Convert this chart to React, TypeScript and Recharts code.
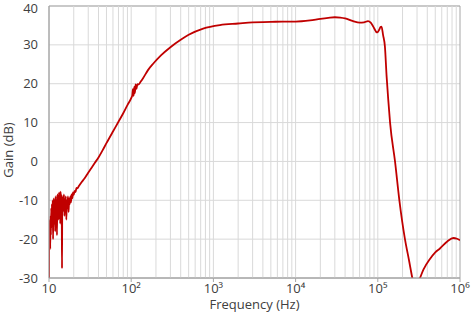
import React from 'react'
import {
  LineChart,
  Line,
  XAxis,
  YAxis,
  CartesianGrid,
  ReferenceLine,
  ReferenceArea,
} from 'recharts'

// noisy low-frequency part
const lowFreq = [
  10.0, 10.05, 10.15, 10.25, 10.35, 10.45, 10.55, 10.65, 10.75, 10.85, 10.95, 11.1, 11.2, 11.35, 11.5,
  11.6, 11.75, 11.9, 12.05, 12.2, 12.35, 12.5, 12.65, 12.8, 12.95, 13.1, 13.25, 13.4, 13.55, 13.7,
  13.85, 14.0, 14.15, 14.3, 14.4, 14.5, 14.65, 14.8, 15.0, 15.2, 15.4, 15.6, 15.8, 16.0, 16.25, 16.5,
  16.75, 17.0, 17.3, 17.6, 17.9, 18.2, 18.5, 18.8, 19.2, 19.6, 20.0, 20.5, 21.0, 21.6, 22.2,
]
const lowGain = [
  -31, -18, -21, -15, -22.5, -14, -19, -12, -17, -11, -15, -10, -20, -11, -9.5,
  -16, -10, -18, -9, -13, -10, -19, -8.5, -12, -9, -15, -8, -11, -10, -16,
  -7.8, -12, -8.5, -14, -27.5, -10, -13, -9, -12, -8.5, -14, -10, -12, -9, -15, -10,
  -12, -9, -13, -9.5, -11, -9, -10.5, -8.5, -9.5, -8, -8.6, -7.6, -7.9, -6.8, -6.9,
]

// rising slope up to the passband
const midFreq = [
  23, 25, 27, 30, 33, 36, 40, 45, 50, 60, 70, 80, 90, 100, 103, 105, 107, 109, 111, 113,
  116, 119, 123, 130, 140, 160, 186, 230, 300, 400, 500, 750, 1200, 2000, 3000, 5000, 7000,
]
const midGain = [
  -6.4, -5.3, -4.4, -2.9, -1.6, -0.4, 1.0, 2.9, 4.7, 7.7, 10.2, 12.4, 14.5, 16.3, 17.0, 18.6, 16.9, 19.2, 17.6, 19.8,
  18.7, 19.9, 19.8, 20.5, 21.5, 23.5, 25.2, 27.3, 29.4, 31.3, 32.6, 34.2, 35.1, 35.5, 35.8, 35.9, 36.0,
]

// passband, roll-off and notch
const highFreq = [
  10000, 15000, 20000, 25000, 30000, 35000, 40000, 50000, 60000, 68000,
  76000, 82000, 88000, 94000, 97000, 100000, 104000, 108000, 111000, 116000,
  122000, 128000, 134000, 141000, 162000, 183000, 214000, 240000, 263000, 284000,
  300000, 326000, 360000, 431000, 500000, 570000, 700000, 830000, 920000, 1000000,
]
const highGain = [
  36.0, 36.3, 36.7, 36.95, 37.1, 37.0, 36.8, 36.1, 35.7, 35.8,
  36.1, 35.7, 34.7, 33.6, 33.2, 33.3, 33.9, 34.6, 34.7, 32.5,
  29.6, 21.9, 15.9, 10, 0, -10, -20, -25.5, -30, -33,
  -31.8, -30, -27.8, -25.1, -23.4, -22.4, -20.6, -19.7, -19.9, -20.3,
]

const xTicks = [10, 100, 1000, 10000, 100000, 1000000]
const xTickLabels = ['10', '10²', '10³', '10⁴', '10⁵', '10⁶']
const yTicks = [-30, -20, -10, 0, 10, 20, 30, 40]

const minorGrid = [10, 100, 1000, 10000, 100000].flatMap((d) =>
  [2, 3, 4, 5, 6, 7, 8, 9].map((m) => d * m)
)

const freq = [...lowFreq, ...midFreq, ...highFreq]
const gain = [...lowGain, ...midGain, ...highGain]
const data = freq.map((f, i) => ({ f, gain: gain[i] }))

const FONT = '"Open Sans", sans-serif'
const TEXT = '#404040'

export default function App() {
  return (
    <div style={{ position: 'absolute', left: 0, top: 0, background: '#fff' }}>
      <LineChart
        width={472}
        height={316}
        data={data}
        margin={{ top: 6, right: 12, bottom: 0, left: 0 }}
        style={{ fontFamily: FONT }}
      >
        <CartesianGrid vertical={false} stroke="#d9d9d9" />
        {minorGrid.map((f) => (
          <ReferenceLine key={f} x={f} stroke="#d9d9d9" strokeWidth={1} />
        ))}
        {xTicks.slice(1, -1).map((f) => (
          <ReferenceLine key={'M' + f} x={f} stroke="#d9d9d9" strokeWidth={1} />
        ))}
        <XAxis
          dataKey="f"
          type="number"
          scale="log"
          domain={[10, 1000000]}
          allowDataOverflow
          ticks={xTicks}
          tickFormatter={(v) => xTickLabels[xTicks.indexOf(v)] ?? String(v)}
          height={38}
          tickSize={4}
          tickMargin={2}
          tick={{ fontSize: 13, fill: TEXT }}
          stroke="#a6a6a6"
          label={{
            value: 'Frequency (Hz)',
            position: 'insideBottom',
            offset: 7,
            fontSize: 13,
            fill: TEXT,
          }}
        />
        <YAxis
          type="number"
          domain={[-30, 40]}
          allowDataOverflow
          ticks={yTicks}
          width={49}
          tickSize={0}
          tickMargin={11}
          tick={{ fontSize: 13, fill: TEXT }}
          stroke="#a6a6a6"
          label={{
            content: () => (
              <text
                x={0}
                y={0}
                transform="translate(13,150) rotate(-90)"
                textAnchor="middle"
                fontSize={13}
                fill={TEXT}
                fontFamily={FONT}
              >
                Gain (dB)
              </text>
            ),
          }}
        />
        <ReferenceArea
          x1={10}
          x2={1000000}
          y1={-30}
          y2={40}
          fill="none"
          stroke="#a6a6a6"
          strokeWidth={1}
        />
        <Line
          type="monotone"
          dataKey="gain"
          stroke="#c00000"
          strokeWidth={1.8}
          dot={false}
          isAnimationActive={false}
        />
      </LineChart>
    </div>
  )
}
